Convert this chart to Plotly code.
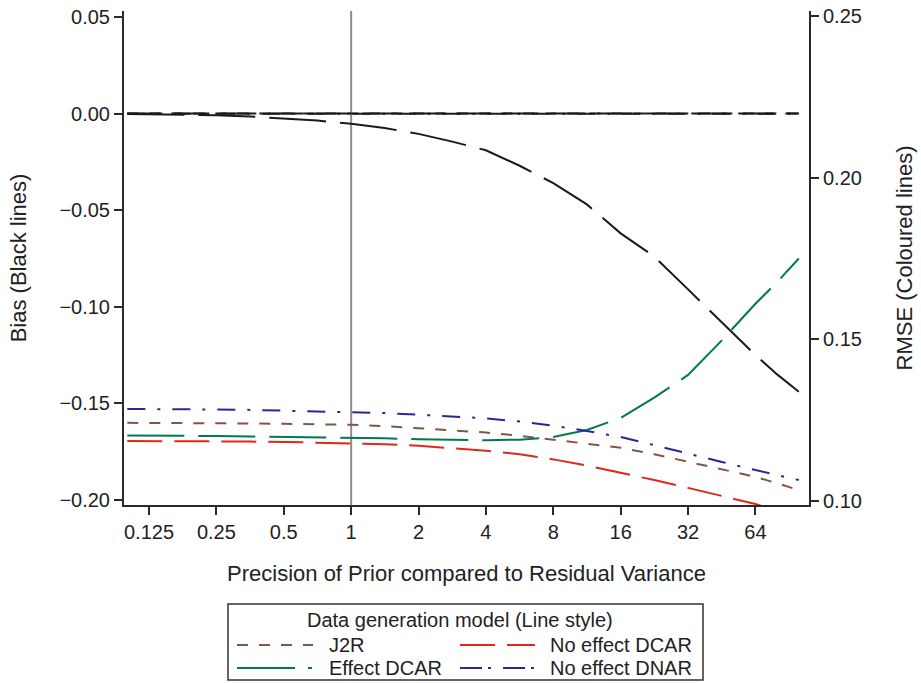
import plotly.graph_objects as go

# ---------------- data ----------------
precision = [0.1, 0.125, 0.177, 0.25, 0.354, 0.5, 0.707, 1, 1.41, 2, 2.83, 4,
             5.66, 8, 11.3, 16, 22.6, 32, 45.3, 64, 80, 100]

# Bias (left axis, black lines)
bias_j2r = [0.0] * 22
bias_noeff_dcar = [0.0001, 0.0001, 0.0001, 0.0001, 0.0001, 0.0001, 0.0001, 0.0001,
                   0.0001, 0.0001, 0.0001, 0.0001, 0.0001, 0.0001, 0.0001, 0.0001,
                   0.0001, 0.0001, 0.0001, 0.0001, 0.0001, 0.0001]
bias_noeff_dnar = [-0.0001, -0.0001, -0.0001, -0.0001, -0.0001, -0.0001, -0.0001,
                   -0.0001, -0.0001, -0.0001, -0.0001, -0.0001, -0.0001, -0.0001,
                   -0.0001, -0.0001, -0.0001, -0.0001, -0.0001, -0.0001, -0.0001,
                   -0.0001]
bias_eff_dcar = [-0.0002, -0.0003, -0.0006, -0.0009, -0.0015, -0.0025, -0.0036,
                 -0.0053, -0.0075, -0.0105, -0.0145, -0.019, -0.027, -0.036,
                 -0.047, -0.062, -0.074, -0.091, -0.108, -0.125, -0.135, -0.144]

# RMSE (right axis, coloured lines)
rmse_j2r = [0.1242, 0.1242, 0.1242, 0.1241, 0.1240, 0.1239, 0.1238, 0.1236, 0.1232,
            0.1226, 0.1220, 0.1212, 0.1202, 0.1190, 0.1178, 0.1165, 0.1145, 0.1122,
            0.1098, 0.1075, 0.1055, 0.1034]
rmse_noeff_dcar = [0.1186, 0.1186, 0.1185, 0.1185, 0.1184, 0.1183, 0.1181, 0.1179,
                   0.1176, 0.1171, 0.1164, 0.1156, 0.1145, 0.1129, 0.1110, 0.1088,
                   0.1065, 0.1041, 0.1016, 0.0991, 0.0970, 0.0945]
rmse_eff_dcar = [0.1203, 0.1203, 0.1202, 0.1201, 0.1200, 0.1199, 0.1198, 0.1197,
                 0.1194, 0.1191, 0.1189, 0.1188, 0.1190, 0.1198, 0.1220, 0.1257,
                 0.1320, 0.1390, 0.1497, 0.1610, 0.1677, 0.1750]
rmse_noeff_dnar = [0.1285, 0.1285, 0.1284, 0.1283, 0.1282, 0.1280, 0.1278, 0.1276,
                   0.1272, 0.1267, 0.1262, 0.1256, 0.1246, 0.1233, 0.1217, 0.1198,
                   0.1173, 0.1146, 0.1121, 0.1096, 0.1081, 0.1065]

x_tickvals = [0.125, 0.25, 0.5, 1, 2, 4, 8, 16, 32, 64]
x_ticktext = ["0.125", "0.25", "0.5", "1", "2", "4", "8", "16", "32", "64"]
ref_x = 1

legend_names = ["J2R", "No effect DCAR", "Effect DCAR", "No effect DNAR"]

# ---------------- styles ----------------
FONT = "Liberation Sans, Arial, sans-serif"
TXT = "#222222"
AX = "#2a2a2a"
C_J2R = "#845545"
C_NDCAR = "#e2261b"
C_EDCAR = "#007a4d"
C_NDNAR = "#30239a"
D_J2R = "11px,11px"
D_NDCAR = "35px,12px"
D_EDCAR = "57px,14px"
D_NDNAR = "18px,12px,3px,12px"

W, H = 921, 683
ML, MR, MT, MB = 124, 112, 11, 178
PW, PH = W - ML - MR, H - MT - MB

YL_RANGE = [-0.2026, 0.0531]
YR_RANGE = [0.0988, 0.2515]

fig = go.Figure()

# reference line at precision 1
fig.add_trace(go.Scatter(x=[ref_x, ref_x], y=YL_RANGE, mode="lines",
                         line=dict(color="#958b86", width=2), yaxis="y",
                         showlegend=False, hoverinfo="skip"))

# RMSE coloured lines
for y, c, d, n in [(rmse_j2r, C_J2R, D_J2R, legend_names[0]),
                   (rmse_noeff_dcar, C_NDCAR, D_NDCAR, legend_names[1]),
                   (rmse_eff_dcar, C_EDCAR, D_EDCAR, legend_names[2]),
                   (rmse_noeff_dnar, C_NDNAR, D_NDNAR, legend_names[3])]:
    fig.add_trace(go.Scatter(x=precision, y=y, mode="lines", yaxis="y2",
                             line=dict(color=c, width=2, dash=d),
                             name=n, showlegend=False))

# Bias black lines
for y, d, n in [(bias_j2r, D_J2R, legend_names[0]),
                (bias_noeff_dcar, D_NDCAR, legend_names[1]),
                (bias_noeff_dnar, D_NDNAR, legend_names[3]),
                (bias_eff_dcar, D_EDCAR, legend_names[2])]:
    fig.add_trace(go.Scatter(x=precision, y=y, mode="lines", yaxis="y",
                             line=dict(color="#1a1a1a", width=2, dash=d),
                             name=n + " (bias)", showlegend=False))

# ---------------- manual legend (positions in page pixels) ----------------
def px(xp):
    return (xp - ML) / PW

def py(yp):
    return (H - MB - yp) / PH

shapes = [dict(type="rect", xref="paper", yref="paper",
               x0=px(228), x1=px(703), y0=py(680), y1=py(604),
               line=dict(color="#333333", width=1.5), fillcolor="rgba(0,0,0,0)")]
annotations = [dict(text="Data generation model (Line style)", xref="paper", yref="paper",
                    x=px(460), y=py(620), showarrow=False, xanchor="center",
                    yanchor="middle", font=dict(size=20, color=TXT, family=FONT))]
legend_items = [
    (legend_names[0], C_J2R, D_J2R, 237, 313, 327, 645),
    (legend_names[2], C_EDCAR, "58px,13px,4px,30px", 237, 313, 327, 668),
    (legend_names[1], C_NDCAR, D_NDCAR, 460, 535, 548, 645),
    (legend_names[3], C_NDNAR, "22px,6px,3px,12px", 460, 535, 548, 668),
]
for name, col, dash, sx0, sx1, tx, yy in legend_items:
    shapes.append(dict(type="line", xref="paper", yref="paper",
                       x0=px(sx0), x1=px(sx1), y0=py(yy), y1=py(yy),
                       line=dict(color=col, width=2, dash=dash)))
    annotations.append(dict(text=name, xref="paper", yref="paper", x=px(tx), y=py(yy),
                            showarrow=False, xanchor="left", yanchor="middle",
                            font=dict(size=20, color=TXT, family=FONT)))

fig.update_layout(
    template="none",
    width=W, height=H,
    margin=dict(l=ML, r=MR, t=MT, b=MB, pad=0),
    paper_bgcolor="white", plot_bgcolor="white",
    font=dict(family=FONT, color=TXT, size=20),
    showlegend=False,
    xaxis=dict(type="log", range=[-1.0148, 2.0455], automargin=False,
               tickvals=x_tickvals, ticktext=x_ticktext,
               showline=True, linecolor=AX, linewidth=2, mirror=False,
               ticks="outside", ticklen=8, tickwidth=2, tickcolor=AX,
               showgrid=False, zeroline=False, ticklabeloverflow="allow",
               tickfont=dict(size=20, color=TXT, family=FONT),
               title=dict(text="Precision of Prior compared to Residual Variance",
                          font=dict(size=22, color=TXT, family=FONT), standoff=24)),
    yaxis=dict(range=YL_RANGE, tick0=-0.2, dtick=0.05, tickformat=".2f",
               automargin=False, ticklabeloverflow="allow",
               showline=True, linecolor=AX, linewidth=2,
               ticks="outside", ticklen=8, tickwidth=2, tickcolor=AX,
               showgrid=False, zeroline=False,
               tickfont=dict(size=20, color=TXT, family=FONT),
               title=dict(text="Bias (Black lines)",
                          font=dict(size=22, color=TXT, family=FONT), standoff=27)),
    yaxis2=dict(range=YR_RANGE, tick0=0.1, dtick=0.05, tickformat=".2f",
                overlaying="y", side="right", automargin=False,
                ticklabeloverflow="allow",
                showline=True, linecolor=AX, linewidth=2,
                ticks="outside", ticklen=8, tickwidth=2, tickcolor=AX,
                showgrid=False, zeroline=False,
                tickfont=dict(size=20, color=TXT, family=FONT),
                title=dict(text="RMSE (Coloured lines)",
                           font=dict(size=22, color=TXT, family=FONT), standoff=36)),
    shapes=shapes,
    annotations=annotations,
)

# remove the browser's default 8px body margin so the 921x683 figure fills the window
fig.write_html("out.html", config={"displayModeBar": False},
               post_script="document.body.style.margin='0px';")
